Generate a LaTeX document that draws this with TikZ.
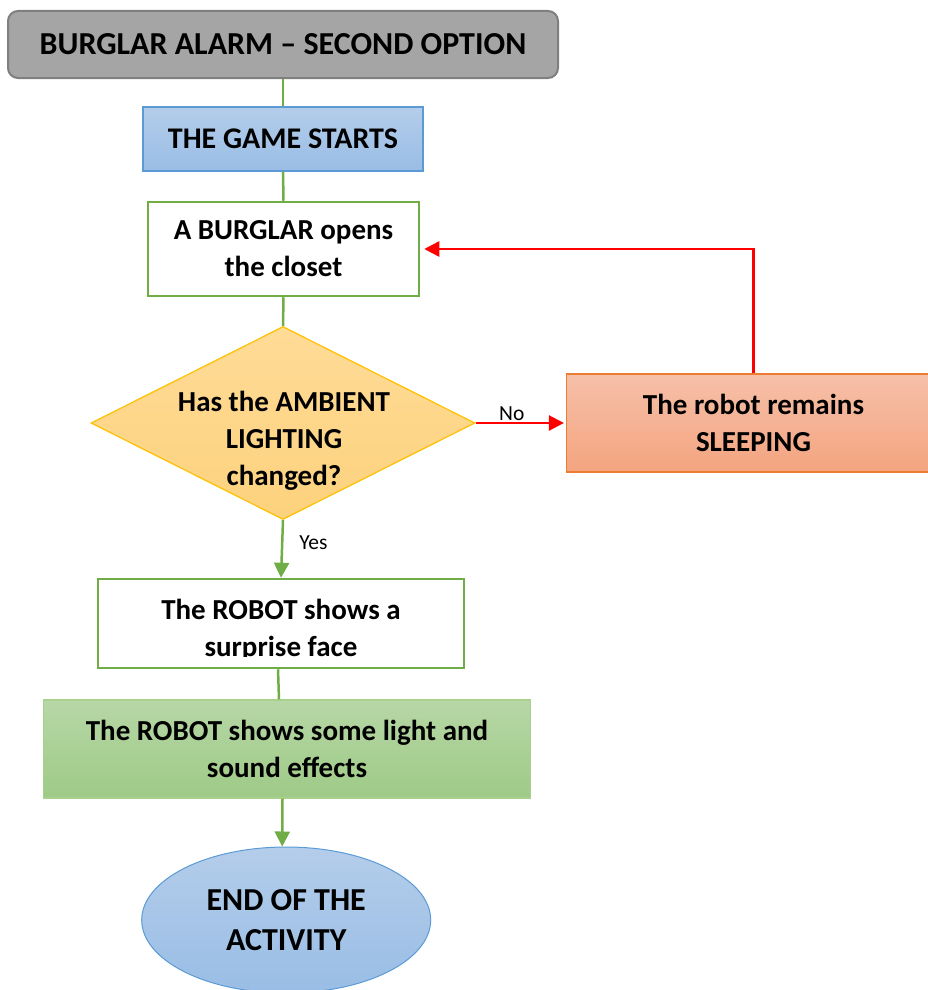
\documentclass[tikz,border=0pt]{standalone}
\usepackage{fontspec}
\setmainfont{Carlito}
\usetikzlibrary{shapes.geometric,arrows.meta,calc}
\definecolor{grn}{HTML}{70AD47}
\definecolor{titlegray}{HTML}{A5A5A5}
\definecolor{titleborder}{HTML}{7F7F7F}
\definecolor{bluetop}{HTML}{B4CDEA}
\definecolor{bluebot}{HTML}{99BDE5}
\definecolor{blueborder}{HTML}{5B9BD5}
\definecolor{goldtop}{HTML}{FEDB97}
\definecolor{goldbot}{HTML}{FDD27D}
\definecolor{goldborder}{HTML}{FFC000}
\definecolor{salmontop}{HTML}{F6C0A9}
\definecolor{salmonbot}{HTML}{F4A47F}
\definecolor{salmonborder}{HTML}{ED7D31}
\definecolor{greentop}{HTML}{B7D7A6}
\definecolor{greenbot}{HTML}{9ECA86}
\definecolor{greenborder}{HTML}{A9D18E}
\definecolor{redline}{HTML}{FF0000}
\begin{document}
\begin{tikzpicture}[x=1pt,y=-1pt,
  box/.style={inner sep=0pt, align=center},
  bodyfont/.style={font=\fontsize{29}{37}\selectfont\bfseries},
  txt/.style={bodyfont, align=center, inner sep=0pt},
  gline/.style={draw=grn, line width=2.5pt},
  rline/.style={draw=redline, line width=2.5pt},
  tip/.style={-{Triangle[length=15pt,width=15pt]}},
  lbl/.style={font=\fontsize{21.5}{24}\selectfont, inner sep=1pt}
]
\useasboundingbox (0,0) rectangle (928,990);

% nodes
\node[box, rounded corners=10pt, fill=titlegray, draw=titleborder, line width=2pt,
      minimum width=550pt, minimum height=67pt,
      font=\fontsize{32}{36}\selectfont\bfseries] (title) at (283,44.5) {BURGLAR ALARM – SECOND OPTION};

\node[box, top color=bluetop, bottom color=bluebot, draw=blueborder, line width=1.2pt,
      minimum width=280pt, minimum height=64pt,
      font=\fontsize{30}{34}\selectfont\bfseries] (game) at (283,139) {THE GAME STARTS};

\node[box, bodyfont, fill=white, draw=grn, line width=2.5pt,
      minimum width=271pt, minimum height=94pt] (burglar) at (283.5,249) {A BURGLAR opens\\the closet};

\node[diamond, inner sep=0pt, top color=goldtop, bottom color=goldbot, draw=goldborder, line width=1.2pt,
      minimum width=384pt, minimum height=193pt] (dia) at (283,423) {};
\node[txt] (diatext) at (284,441) {Has the AMBIENT\\LIGHTING\\changed?};

\node[box, bodyfont, top color=salmontop, bottom color=salmonbot, draw=salmonborder, line width=1.2pt,
      minimum width=374pt, minimum height=98pt] (sleep) at (753.5,423) {The robot remains\\SLEEPING};

\node[box, fill=white, draw=grn, line width=2.5pt,
      minimum width=366pt, minimum height=89pt] (surprise) at (281,623.5) {};
\begin{scope}
  \clip (97,579) rectangle (464,656.5);
  \node[txt] (surprisetext) at (281,630) {The ROBOT shows a\\surprise face};
\end{scope}

\node[box, bodyfont, top color=greentop, bottom color=greenbot, draw=greenborder, line width=1.2pt,
      minimum width=487pt, minimum height=98pt] (effects) at (287,749) {The ROBOT shows some light and\\sound effects};

\node[ellipse, inner sep=0pt, top color=bluetop, bottom color=bluebot, draw=blueborder, line width=1pt,
      minimum width=289pt, minimum height=146pt, align=center,
      font=\fontsize{32}{40}\selectfont\bfseries] (endnode) at (286.2,920) {END OF THE\\ACTIVITY};

% connectors
\draw[gline] (title.south) -- (game.north);
\draw[gline] (game.south) -- (burglar.north);
\draw[gline] (burglar.south) -- (dia.north);
\draw[rline, tip, shorten >=2pt] (dia.east) -- node[lbl, pos=0.4, above] (nolabel) {No} (sleep.west);
\draw[rline, tip, shorten >=4pt] (sleep.north) |- (burglar.east);
\draw[gline, tip] (dia.south) -- node[lbl, pos=0.4, right=15pt] (yeslabel) {Yes} (surprise.north);
\draw[gline] ([xshift=-3pt]surprise.south) -- ([xshift=-8pt]effects.north);
\draw[gline, tip] ([xshift=-4.5pt]effects.south) -- ([xshift=-4pt]endnode.north);
\end{tikzpicture}
\end{document}
